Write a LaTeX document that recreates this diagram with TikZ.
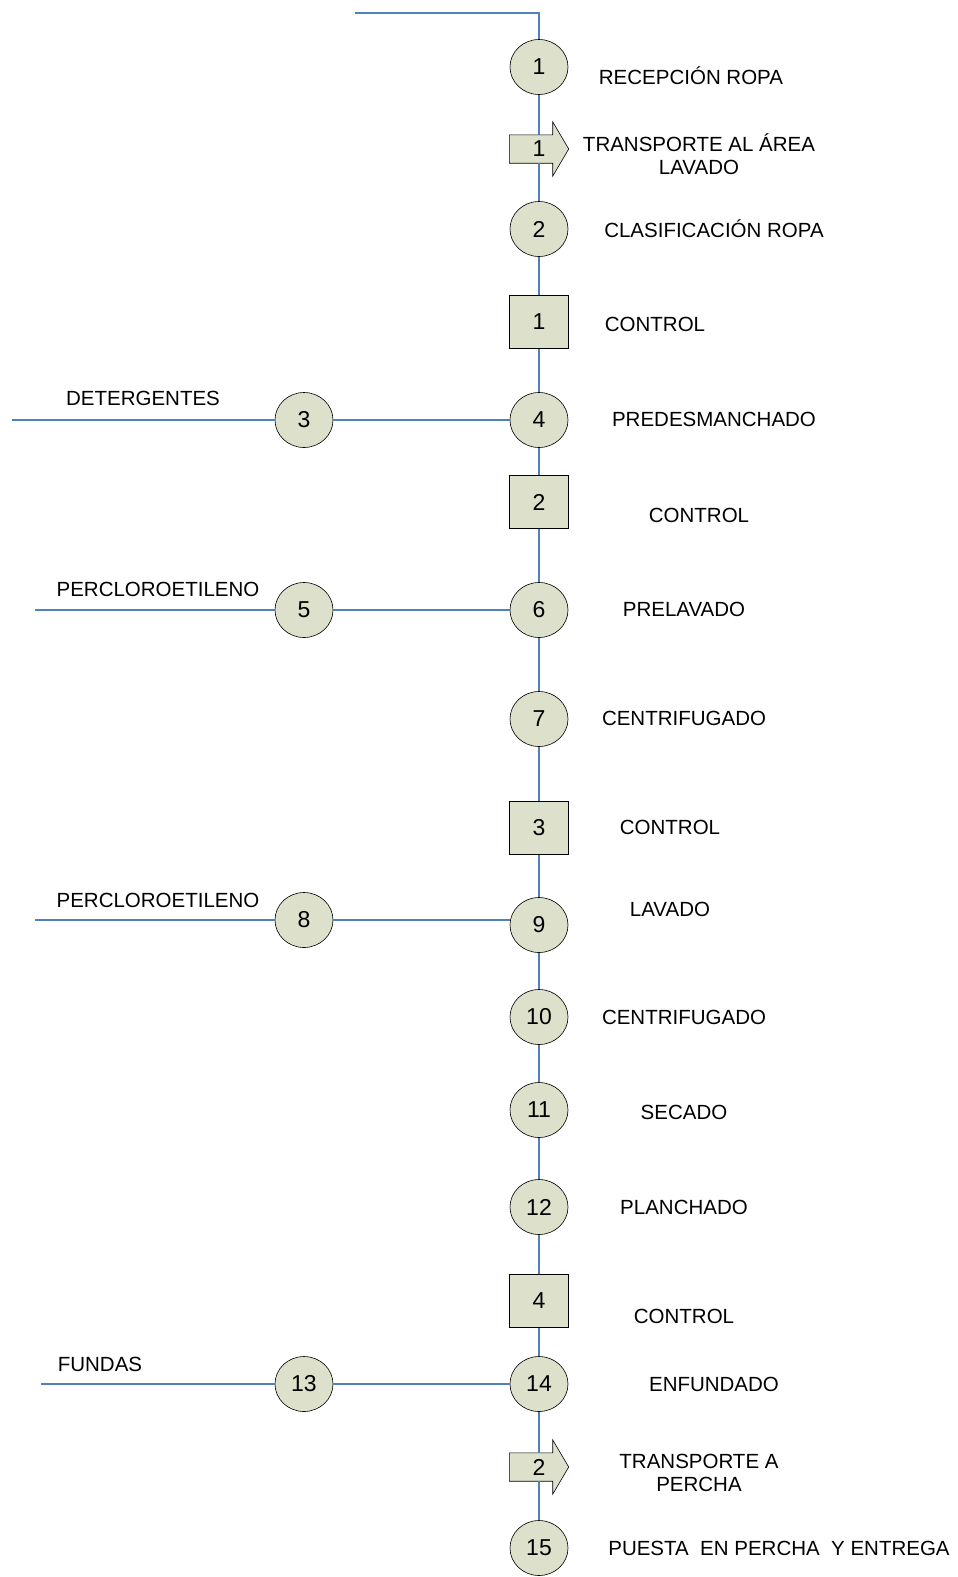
\documentclass[tikz,border=0pt]{standalone}
\usepackage{fontspec}
\setmainfont{Liberation Sans}
\usetikzlibrary{shapes.geometric,calc,backgrounds}
\definecolor{flowblue}{RGB}{79,129,189}
\definecolor{opfill}{RGB}{221,224,203}
\tikzset{
  x=1pt, y=-1pt,
  flow/.style={draw=flowblue, line width=1.2pt},
  opcircle/.style={ellipse, draw=black, line width=0.6pt, fill=opfill,
    minimum width=58pt, minimum height=55pt, inner sep=0pt,
    font=\fontsize{23}{26}\selectfont},
  ctrlbox/.style={rectangle, draw=black, line width=0.6pt, fill=opfill,
    minimum width=59pt, minimum height=53pt, inner sep=0pt,
    font=\fontsize{23}{26}\selectfont},
  movebody/.style={rectangle, minimum width=59pt, minimum height=28pt,
    inner sep=0pt, font=\fontsize{23}{26}\selectfont},
  movearrow/.style={draw=black, line width=0.6pt, fill=opfill},
  lbl/.style={font=\fontsize{20.5}{23}\selectfont, align=center, inner sep=0pt}
}
% arrow outline for a transport step, drawn behind its number
\newcommand{\movearrowpath}[1]{%
  \begin{scope}[on background layer]
    \path[movearrow] (#1.north west) -- ($(#1.north east)+(-16,0)$) -- ++(0,-13)
      -- (#1.east) -- ($(#1.south east)+(-16,13)$) -- ++(0,-13)
      -- (#1.south west) -- cycle;
  \end{scope}}
\begin{document}
\begin{tikzpicture}
\useasboundingbox (0,0) rectangle (958,1577);

% main column
\coordinate (start) at (355,13);
\coordinate (corner) at (539,13);
\node[opcircle] (c1) at (539,67) {1};
\node[movebody] (a1) at (539,149) {1};
\movearrowpath{a1}
\node[opcircle] (c2) at (539,229) {2};
\node[ctrlbox] (s1) at (539,322) {1};
\node[opcircle] (c4) at (539,420) {4};
\node[ctrlbox] (s2) at (539,502) {2};
\node[opcircle] (c6) at (539,610) {6};
\node[opcircle] (c7) at (539,719) {7};
\node[ctrlbox] (s3) at (539,828) {3};
\node[opcircle] (c9) at (539,925) {9};
\node[opcircle] (c10) at (539,1017) {10};
\node[opcircle] (c11) at (539,1110) {11};
\node[opcircle] (c12) at (539,1207) {12};
\node[ctrlbox] (s4) at (539,1301) {4};
\node[opcircle] (c14) at (539,1384) {14};
\node[movebody] (a2) at (539,1467) {2};
\movearrowpath{a2}
\node[opcircle] (c15) at (539,1548) {15};

% side inputs
\node[opcircle] (c3) at (304,420) {3};
\node[opcircle] (c5) at (304,610) {5};
\node[opcircle] (c8) at (304,920) {8};
\node[opcircle] (c13) at (304,1384) {13};
\coordinate (in3) at (12,420);
\coordinate (in5) at (35,610);
\coordinate (in8) at (35,920);
\coordinate (in13) at (41,1384);

% connectors
\draw[flow] (start) -- (corner) -- (c1);
\draw[flow] (c1) -- (a1);
\draw[flow] (a1) -- (c2);
\draw[flow] (c2) -- (s1);
\draw[flow] (s1) -- (c4);
\draw[flow] (c4) -- (s2);
\draw[flow] (s2) -- (c6);
\draw[flow] (c6) -- (c7);
\draw[flow] (c7) -- (s3);
\draw[flow] (s3) -- (c9);
\draw[flow] (c9) -- (c10);
\draw[flow] (c10) -- (c11);
\draw[flow] (c11) -- (c12);
\draw[flow] (c12) -- (s4);
\draw[flow] (s4) -- (c14);
\draw[flow] (c14) -- (a2);
\draw[flow] (a2) -- (c15);

\draw[flow] (in3) -- (c3);
\draw[flow] (c3) -- (c4);
\draw[flow] (in5) -- (c5);
\draw[flow] (c5) -- (c6);
\draw[flow] (in8) -- (c8);
\draw[flow] (c8) -- (c9.west |- c8.east);
\draw[flow] (in13) -- (c13);
\draw[flow] (c13) -- (c14);

% step names
\node[lbl] (t1) at (691,76) {RECEPCIÓN ROPA};
\node[lbl] (t2) at (699,154) {TRANSPORTE AL ÁREA\\LAVADO};
\node[lbl] (t3) at (714,229) {CLASIFICACIÓN ROPA};
\node[lbl] (t4) at (655,324) {CONTROL};
\node[lbl] (t5) at (714,419) {PREDESMANCHADO};
\node[lbl] (t6) at (699,515) {CONTROL};
\node[lbl] (t7) at (684,609) {PRELAVADO};
\node[lbl] (t8) at (684,718) {CENTRIFUGADO};
\node[lbl] (t9) at (670,827) {CONTROL};
\node[lbl] (t10) at (670,909) {LAVADO};
\node[lbl] (t11) at (684,1017) {CENTRIFUGADO};
\node[lbl] (t12) at (684,1112) {SECADO};
\node[lbl] (t13) at (684,1207) {PLANCHADO};
\node[lbl] (t14) at (684,1316) {CONTROL};
\node[lbl] (t15) at (714,1384) {ENFUNDADO};
\node[lbl] (t16) at (699,1473) {TRANSPORTE A\\PERCHA};
\node[lbl] (t17) at (779,1548) {PUESTA\ \ EN PERCHA\ \ Y ENTREGA};

% input names
\node[lbl] (l3) at (143,398) {DETERGENTES};
\node[lbl] (l5) at (158,589) {PERCLOROETILENO};
\node[lbl] (l8) at (158,900) {PERCLOROETILENO};
\node[lbl] (l13) at (100,1364) {FUNDAS};
\end{tikzpicture}
\end{document}
